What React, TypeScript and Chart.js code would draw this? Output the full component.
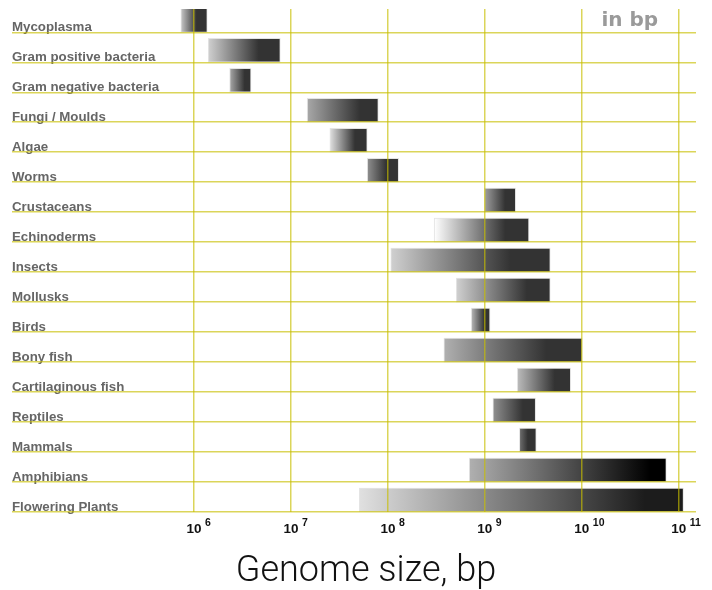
import { useEffect, useRef } from 'react';
import { Chart, registerables } from 'chart.js';

Chart.register(...registerables);

// ---- data ----
const categories = [
  'Mycoplasma',
  'Gram positive bacteria',
  'Gram negative bacteria',
  'Fungi / Moulds',
  'Algae',
  'Worms',
  'Crustaceans',
  'Echinoderms',
  'Insects',
  'Mollusks',
  'Birds',
  'Bony fish',
  'Cartilaginous fish',
  'Reptiles',
  'Mammals',
  'Amphibians',
  'Flowering Plants',
];
const sizeMin = [7.3e5, 1.4e6, 2.33e6, 1.47e7, 2.52e7, 6.12e7, 9.9e8, 3.0e8, 1.07e8, 5.07e8, 7.24e8, 3.78e8, 2.16e9, 1.21e9, 2.27e9, 6.9e8, 5.07e7];
const sizeMax = [1.37e6, 7.76e6, 3.87e6, 7.96e7, 6.12e7, 1.29e8, 2.08e9, 2.85e9, 4.73e9, 4.73e9, 1.13e9, 1.01e10, 7.68e9, 3.34e9, 3.39e9, 7.45e10, 1.12e11];
const decadeTicks = [1e6, 1e7, 1e8, 1e9, 1e10, 1e11];
const axisTitle = 'Genome size, bp';
const unitNote = 'in bp';

// ---- styling of the bar gradients (per row) ----
const shadeStart = ['#c8c8c8', '#d0d0d0', '#a8a8a8', '#a8a8a8', '#e0e0e0', '#909090', '#a0a0a0', '#ffffff', '#d0d0d0', '#d0d0d0', '#b8b8b8', '#b0b0b0', '#bcbcbc', '#909090', '#707070', '#b0b0b0', '#e0e0e0'];
const shadeEnd = ['#333', '#333', '#333', '#333', '#333', '#333', '#333', '#333', '#333', '#333', '#333', '#333', '#333', '#333', '#333', '#000', '#1c1c1c'];
const shadeStop = [0.6, 0.7, 0.7, 0.74, 0.67, 0.6, 0.66, 0.75, 0.75, 0.75, 0.7, 0.74, 0.7, 0.7, 0.5, 0.92, 0.88];

const GRID = 'rgba(200,190,0,0.65)';

const labelsPlugin = {
  id: 'customText',
  afterDraw(chart: any) {
    const { ctx } = chart;
    const x = chart.scales.x;
    ctx.save();
    ctx.fillStyle = '#111';
    ctx.textBaseline = 'alphabetic';
    for (const t of x.ticks) {
      const px = x.getPixelForValue(t.value);
      const exp = String(Math.round(Math.log10(t.value)));
      ctx.font = 'bold 13.5px "Liberation Sans", Arial, sans-serif';
      const w = ctx.measureText('10').width;
      ctx.textAlign = 'center';
      ctx.fillText('10', px, 533);
      ctx.font = 'bold 10.5px "Liberation Sans", Arial, sans-serif';
      ctx.textAlign = 'left';
      ctx.fillText(exp, px + w / 2 + 3.5, 526);
    }
    ctx.font = '300 36px Roboto, sans-serif';
    ctx.textAlign = 'center';
    ctx.fillStyle = '#111';
    ctx.fillText(axisTitle, 366, 581);
    ctx.font = 'bold 20px "DejaVu Sans", sans-serif';
    ctx.textAlign = 'left';
    ctx.fillStyle = '#9a9a9a';
    ctx.fillText(unitNote, 601.5, 26);
    ctx.restore();
  },
};

export default function App() {
  const ref = useRef<HTMLCanvasElement>(null);
  useEffect(() => {
    if (!ref.current) return;
    const chart = new Chart(ref.current, {
      type: 'bar',
      data: {
        datasets: [
          {
            data: categories.map((_, i) => ({ y: i + 0.6, x: [sizeMin[i], sizeMax[i]] })) as any,
            barThickness: 24,
            borderWidth: 1,
            borderColor: 'rgba(225,225,225,0.9)',
            borderSkipped: false,
            backgroundColor: (c: any) => {
              const ch = c.chart;
              const xs = ch.scales && ch.scales.x;
              const i = c.dataIndex;
              if (!xs || i === undefined || i < 0) return '#333';
              const x0 = xs.getPixelForValue(sizeMin[i]);
              const x1 = xs.getPixelForValue(sizeMax[i]);
              if (!isFinite(x0) || !isFinite(x1) || x1 <= x0) return '#333';
              const g = ch.ctx.createLinearGradient(x0, 0, x1, 0);
              g.addColorStop(0, shadeStart[i]);
              g.addColorStop(shadeStop[i], shadeEnd[i]);
              g.addColorStop(1, shadeEnd[i]);
              return g;
            },
          },
        ],
      },
      options: {
        indexAxis: 'y',
        animation: false,
        responsive: true,
        maintainAspectRatio: false,
        layout: { padding: { left: 12, right: 16, top: 9, bottom: 78 } },
        plugins: { legend: { display: false }, tooltip: { enabled: false }, title: { display: false } },
        scales: {
          x: {
            type: 'logarithmic',
            min: 13243,
            max: 1.507e11,
            offset: false,
            afterBuildTicks: (s: any) => {
              s.ticks = decadeTicks.map((v) => ({ value: v }));
            },
            ticks: { display: false },
            grid: { color: GRID, lineWidth: 1.5, drawTicks: false, offset: false, z: 1 },
            border: { display: false },
          },
          y: {
            type: 'linear',
            reverse: true,
            min: 0.2229,
            max: 17,
            offset: false,
            afterBuildTicks: (s: any) => {
              s.ticks = categories.map((_, i) => ({ value: i + 1 }));
            },
            ticks: {
              mirror: true,
              padding: 0,
              labelOffset: -4.5,
              color: '#666',
              font: { family: '"Liberation Sans", Arial, sans-serif', size: 13.3, weight: 'bold' },
              callback: (v: any) => categories[Math.round(v) - 1] ?? '',
            },
            grid: { color: GRID, lineWidth: 1.5, drawTicks: false, offset: false, z: 1 },
            border: { display: false },
          },
        },
      },
      plugins: [labelsPlugin],
    });
    return () => chart.destroy();
  }, []);
  return (
    <div style={{ position: 'fixed', left: 0, top: 0, width: 712, height: 590, background: '#fff' }}>
      <canvas ref={ref} />
    </div>
  );
}
